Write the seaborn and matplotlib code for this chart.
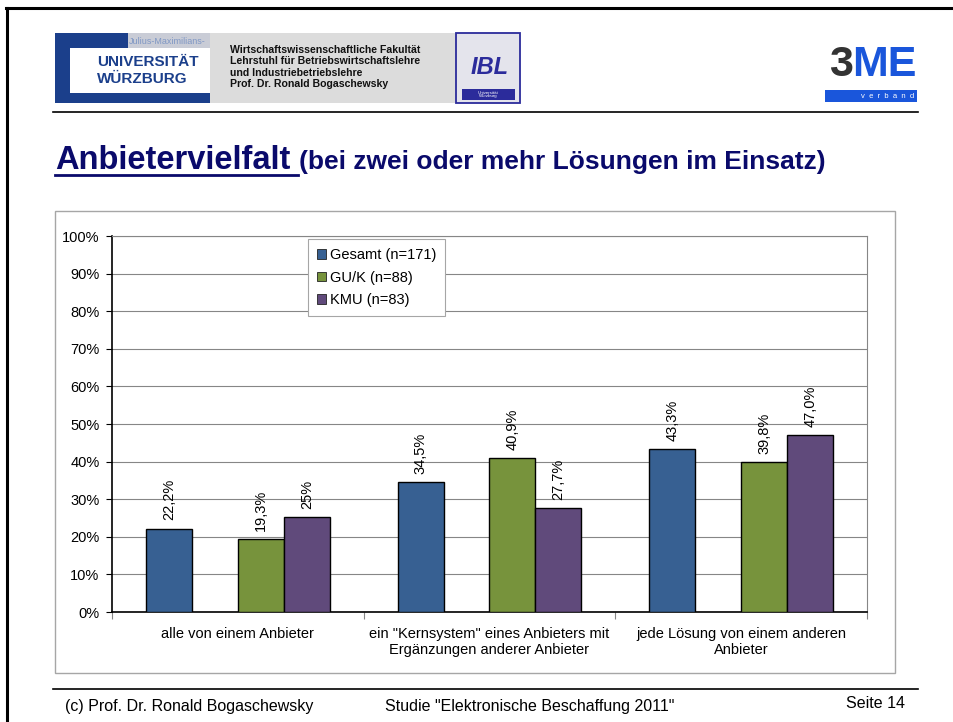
import pandas as pd
import seaborn as sns
import matplotlib.pyplot as plt
from matplotlib.patches import Rectangle, Patch
from matplotlib.lines import Line2D

# Chart data
categories = ['alle von einem Anbieter',
              'ein "Kernsystem" eines Anbieters mit\nErgänzungen anderer Anbieter',
              'jede Lösung von einem anderen\nAnbieter']
series = ['Gesamt (n=171)', 'GU/K (n=88)', 'KMU (n=83)']
gesamt = [22.2, 34.5, 43.3]
guk = [19.3, 40.9, 39.8]
kmu = [25.3, 27.7, 47.0]
gesamt_labels = ['22,2%', '34,5%', '43,3%']
guk_labels = ['19,3%', '40,9%', '39,8%']
kmu_labels = ['25%', '27,7%', '47,0%']
colors = ['#376092', '#77933C', '#604A7B']
yticks = [0, 10, 20, 30, 40, 50, 60, 70, 80, 90, 100]

# long table for seaborn; the blank hue level keeps the empty slot after "Gesamt"
rows = []
for name, vals in zip(series, [gesamt, guk, kmu]):
    for cat, v in zip(categories, vals):
        rows.append({'cat': cat, 'series': name, 'value': v})
df = pd.DataFrame(rows)
spacer = ' '
hue_order = [series[0], spacer, series[1], series[2]]
palette = {series[0]: colors[0], spacer: 'white', series[1]: colors[1], series[2]: colors[2]}

W, H = 954, 722
fig = plt.figure(figsize=(W / 100, H / 100), dpi=100)
plt.rcParams['font.family'] = ['Liberation Sans', 'DejaVu Sans']


def fx(x):
    return x / W


def fy(y):
    return 1 - y / H


def frect(x0, y0, x1, y1, **kw):
    fig.add_artist(Rectangle((fx(x0), fy(y1)), fx(x1) - fx(x0), fy(y0) - fy(y1),
                             transform=fig.transFigure, **kw))


def fline(x0, y0, x1, y1, **kw):
    fig.add_artist(Line2D([fx(x0), fx(x1)], [fy(y0), fy(y1)], transform=fig.transFigure, **kw))


def ftext(x, y, s, **kw):
    fig.text(fx(x), fy(y), s, **kw)


# slide frame
fline(6, 8, 954, 8, color='black', lw=2.2)
fline(7, 8, 7, 722, color='black', lw=2.2)

# header logos
navy = '#1B3F8B'
frect(55, 33, 456, 103, facecolor='#DCDCDC', edgecolor='none')
frect(55, 33, 210, 103, facecolor=navy, edgecolor='none')
frect(128, 33, 210, 48, facecolor='#C9CCD6', edgecolor='none')
frect(70, 48, 210, 93, facecolor='white', edgecolor='none')
ftext(129, 41, 'Julius-Maximilians-', color='#7F97C4', fontsize=6.5, va='center')
ftext(97, 62, 'UNIVERSITÄT', color=navy, fontsize=11, fontweight='bold', va='center')
ftext(97, 79, 'WÜRZBURG', color=navy, fontsize=11, fontweight='bold', va='center')
inst = ['Wirtschaftswissenschaftliche Fakultät', 'Lehrstuhl für Betriebswirtschaftslehre',
        'und Industriebetriebslehre', 'Prof. Dr. Ronald Bogaschewsky']
for i, line in enumerate(inst):
    ftext(230, 50 + i * 11.4, line, fontsize=7.6, fontweight='bold', va='center', color='#111111')

frect(456, 33, 520, 103, facecolor='#E4E4EC', edgecolor='#2B2B9B', lw=1.3)
ftext(490, 68, 'IBL', color='#2B2B9B', fontsize=17, fontweight='bold', style='italic',
      ha='center', va='center')
frect(462, 89, 515, 100, facecolor='#2B2B9B', edgecolor='none')
ftext(488, 94.5, 'Universität\nWürzburg', color='white', fontsize=3.2, ha='center', va='center',
      linespacing=1.0)

ftext(829, 65, '3', color='#333333', fontsize=31, fontweight='bold', va='center')
ftext(852, 65, 'ME', color='#1A56DB', fontsize=31, fontweight='bold', va='center')
frect(825, 90, 917, 102, facecolor='#1A56DB', edgecolor='none')
ftext(914, 96, 'v  e  r  b  a  n  d', color='white', fontsize=5.5, ha='right', va='center')

fline(53, 112, 918, 112, color='black', lw=1.2)

# title
title_col = '#0A0A6B'
ftext(55, 169, 'Anbietervielfalt', color=title_col, fontsize=23.5, fontweight='bold', va='baseline')
fline(55, 175, 298, 175, color=title_col, lw=2)
ftext(299, 169, '(bei zwei oder mehr Lösungen im Einsatz)', color=title_col, fontsize=19,
      fontweight='bold', va='baseline')

# chart frame
frect(55, 211, 895, 673, facecolor='none', edgecolor='#A6A6A6', lw=1)

# plot area
ax = fig.add_axes([fx(112), fy(612), fx(867) - fx(112), fy(236) - fy(612)])
sns.barplot(data=df, x='cat', y='value', hue='series', order=categories, hue_order=hue_order,
            palette=palette, saturation=1, width=0.731, edgecolor='black', linewidth=1,
            errorbar=None, legend=False, ax=ax, zorder=3)

bar_conts = [c for c in ax.containers if len(c) > 0]
for cont, labels in zip(bar_conts, [gesamt_labels, guk_labels, kmu_labels]):
    ax.bar_label(cont, labels=labels, rotation=90, padding=6, fontsize=10.5)

ax.set_xlim(-0.5, len(categories) - 0.5)
ax.set_ylim(0, 100)
ax.set_yticks(yticks)
ax.set_yticklabels([f'{v}%' for v in yticks], fontsize=10.5)
ax.set_xticks(range(len(categories)))
ax.set_xticklabels(categories, fontsize=10.5, linespacing=1.15)
ax.set_xticks([i - 0.5 for i in range(len(categories) + 1)], minor=True)
ax.tick_params(axis='x', which='major', length=0, pad=11)
ax.tick_params(axis='x', which='minor', length=5, color='#868686', width=0.8)
ax.tick_params(axis='y', length=4, width=0.8, pad=5)
ax.set_xlabel('')
ax.set_ylabel('')
ax.yaxis.grid(True, color='#868686', lw=0.8)
ax.set_axisbelow(True)
for side in ['left', 'bottom']:
    ax.spines[side].set_color('black')
    ax.spines[side].set_linewidth(1.2)
for side in ['top', 'right']:
    ax.spines[side].set_color('#868686')
    ax.spines[side].set_linewidth(0.8)

handles = [Patch(facecolor=c, edgecolor='#222222', lw=0.6) for c in colors]
leg = ax.legend(handles, series, loc='upper left', bbox_to_anchor=(0.2596, 0.992),
                borderaxespad=0, fontsize=10.5, handlelength=0.65, handleheight=0.65,
                handletextpad=0.25, labelspacing=0.6, borderpad=0.6, fancybox=False,
                framealpha=1, edgecolor='#A6A6A6')
leg.get_frame().set_linewidth(0.8)

# footer
fline(53, 689, 918, 689, color='black', lw=1.2)
ftext(65, 707, '(c) Prof. Dr. Ronald Bogaschewsky', fontsize=11.5, va='center')
ftext(530, 707, 'Studie "Elektronische Beschaffung 2011"', fontsize=11.5, va='center', ha='center')
ftext(905, 704, 'Seite 14', fontsize=11.5, va='center', ha='right')

fig.savefig('out.png', dpi=100)
